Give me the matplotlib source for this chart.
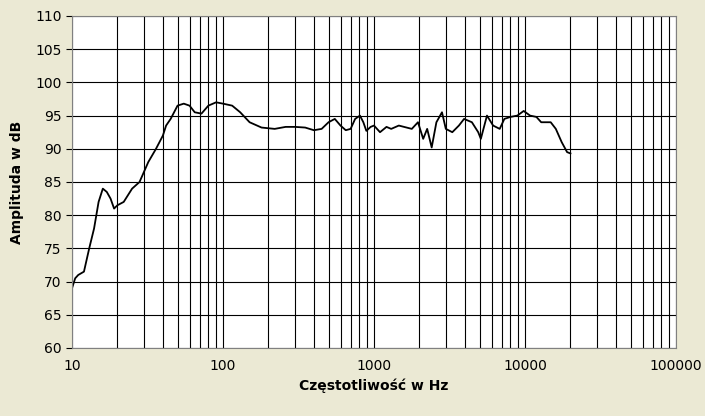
import matplotlib
matplotlib.use("Agg")
import matplotlib.pyplot as plt
from matplotlib.ticker import FixedLocator, LogLocator, NullFormatter

freq = [10, 10.5, 11, 12, 13, 14, 15, 16, 17, 18, 19, 20, 22, 25, 28, 32, 36, 40, 42, 45,
        50, 55, 60, 65, 72, 80, 90, 100, 115, 130, 150, 180, 220, 260, 300, 350, 400, 450,
        500, 550, 600, 650, 700, 750, 807, 850, 890, 950, 1000, 1096, 1210, 1300, 1460, 1780,
        1955, 2117, 2250, 2410, 2590, 2820, 2990, 3300, 3650, 3950, 4450, 4900, 5100, 5600,
        6150, 6800, 7300, 8000, 8900, 9800, 10800, 11900, 12800, 14800, 16000, 17500, 19000, 20000]
db = [69, 70.5, 71, 71.5, 75, 78, 82, 84, 83.5, 82.5, 81, 81.5, 82, 84, 85, 88, 90, 92, 93.5, 94.5,
      96.5, 96.8, 96.5, 95.5, 95.3, 96.5, 97, 96.8, 96.5, 95.5, 94, 93.2, 93, 93.3, 93.3, 93.2, 92.8, 93,
      94, 94.5, 93.5, 92.8, 93, 94.5, 95, 94, 92.7, 93.3, 93.5, 92.5, 93.3, 93, 93.5, 93,
      94, 91.5, 93, 90.2, 94, 95.5, 93, 92.5, 93.5, 94.5, 94, 92.5, 91.5, 95,
      93.5, 93, 94.5, 94.8, 95, 95.7, 95, 94.8, 94, 94, 93, 91, 89.5, 89.3]

bg = "#ebe9d4"
fig = plt.figure(figsize=(7.05, 4.16), dpi=100, facecolor=bg)
ax = fig.add_axes([72/705, 1-348/416, 604/705, 332/416])
ax.set_facecolor("white")
ax.plot(freq, db, color="black", lw=1.3)
ax.set_xscale("log")
ax.set_xlim(10, 100000)
ax.set_ylim(60, 110)
ax.yaxis.set_major_locator(FixedLocator(range(60, 111, 5)))
ax.xaxis.set_major_locator(FixedLocator([10, 100, 1000, 10000, 100000]))
ax.set_xticklabels(["10", "100", "1000", "10000", "100000"])
ax.xaxis.set_minor_locator(LogLocator(base=10, subs=range(2, 10)))
ax.xaxis.set_minor_formatter(NullFormatter())
ax.grid(True, which="both", axis="x", color="black", lw=0.8)
ax.grid(True, which="major", axis="y", color="black", lw=0.8)
ax.tick_params(axis="x", which="both", length=0, labelsize=10, pad=8)
ax.tick_params(axis="y", length=4, labelsize=10)
for s in ax.spines.values():
    s.set_color("#808080")
ax.set_xlabel("Częstotliwość w Hz", fontweight="bold", fontsize=10)
ax.set_ylabel("Amplituda w dB", fontweight="bold", fontsize=10, labelpad=8)
fig.savefig("out.png", dpi=100, facecolor=bg)
